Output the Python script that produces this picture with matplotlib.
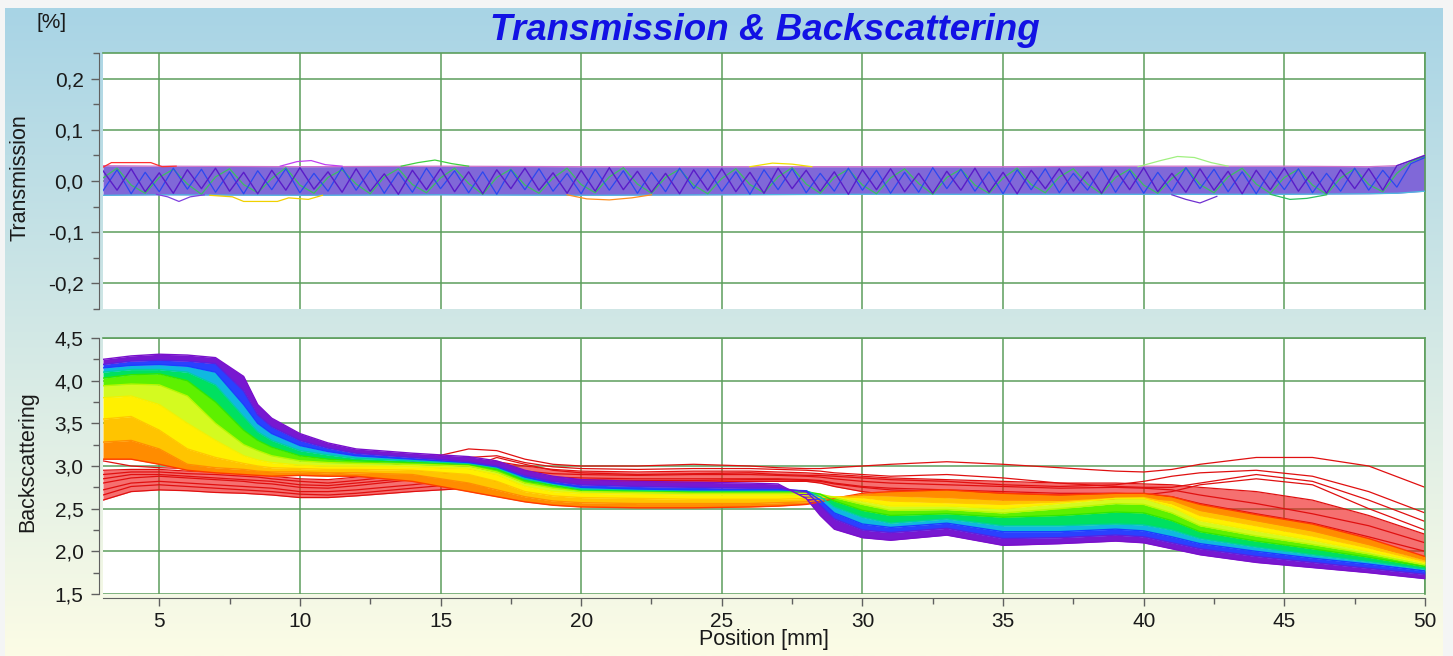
import numpy as np
import matplotlib
matplotlib.use("Agg")
import matplotlib.pyplot as plt
from matplotlib.ticker import MultipleLocator, FuncFormatter
from matplotlib.colors import LinearSegmentedColormap

plt.rcParams['font.family'] = ['Liberation Sans', 'DejaVu Sans']

# ---------------- data: backscattering profiles (position in mm) ----------------
POS = [3, 4, 5, 6, 7, 8, 8.5, 9, 10, 11, 12, 14, 16, 17, 18, 19, 20, 22, 24, 26,
       27, 28, 28.5, 29, 30, 31, 33, 35, 37, 39, 40, 41, 42, 44, 46, 48, 50]

# early scans (red lines)
RED_A = [2.60, 2.70, 2.72, 2.71, 2.69, 2.68, 2.67, 2.66, 2.63, 2.63, 2.65, 2.70, 2.74, 2.76, 2.80, 2.82, 2.82, 2.81, 2.81, 2.82,
         2.82, 2.82, 2.80, 2.76, 2.70, 2.66, 2.64, 2.62, 2.60, 2.60, 2.58, 2.55, 2.46, 2.32, 2.20, 2.05, 1.93]
RED_B = [2.72, 2.80, 2.82, 2.80, 2.78, 2.76, 2.75, 2.74, 2.70, 2.70, 2.72, 2.78, 2.85, 2.87, 2.88, 2.87, 2.86, 2.85, 2.85, 2.85,
         2.85, 2.84, 2.83, 2.80, 2.76, 2.74, 2.72, 2.70, 2.68, 2.68, 2.67, 2.64, 2.56, 2.44, 2.33, 2.17, 2.00]
RED_C = [2.85, 2.90, 2.90, 2.88, 2.86, 2.84, 2.83, 2.82, 2.78, 2.77, 2.80, 2.86, 2.95, 2.96, 2.94, 2.91, 2.90, 2.89, 2.90, 2.90,
         2.89, 2.88, 2.87, 2.85, 2.82, 2.80, 2.78, 2.76, 2.74, 2.75, 2.74, 2.72, 2.66, 2.56, 2.44, 2.30, 2.10]
RED_D = [2.95, 2.96, 2.96, 2.94, 2.93, 2.91, 2.90, 2.88, 2.85, 2.84, 2.87, 2.95, 3.05, 3.05, 3.00, 2.96, 2.94, 2.93, 2.94, 2.94,
         2.93, 2.92, 2.91, 2.90, 2.88, 2.86, 2.84, 2.82, 2.80, 2.80, 2.79, 2.78, 2.75, 2.70, 2.60, 2.42, 2.20]
RED_E = [3.06, 3.00, 2.98, 2.97, 2.95, 2.94, 2.93, 2.92, 2.89, 2.90, 2.93, 3.05, 3.20, 3.18, 3.08, 3.02, 3.00, 3.00, 3.02, 3.00,
         2.98, 2.97, 2.97, 2.98, 3.00, 3.02, 3.05, 3.02, 2.98, 2.94, 2.93, 2.96, 3.02, 3.10, 3.10, 3.00, 2.75]
RED_F = [2.80, 2.86, 2.88, 2.86, 2.84, 2.82, 2.80, 2.79, 2.75, 2.74, 2.77, 2.84, 2.98, 3.10, 3.02, 2.95, 2.92, 2.90, 2.91, 2.92,
         2.90, 2.89, 2.89, 2.88, 2.86, 2.84, 2.82, 2.78, 2.76, 2.78, 2.82, 2.88, 2.92, 2.95, 2.88, 2.70, 2.45]
RED_G = [2.66, 2.76, 2.78, 2.76, 2.74, 2.72, 2.71, 2.70, 2.67, 2.66, 2.68, 2.74, 2.80, 2.82, 2.84, 2.84, 2.84, 2.83, 2.83, 2.84,
         2.84, 2.83, 2.82, 2.79, 2.75, 2.72, 2.70, 2.68, 2.66, 2.66, 2.66, 2.70, 2.78, 2.85, 2.78, 2.50, 2.25]
RED_H = [2.90, 2.93, 2.93, 2.91, 2.90, 2.88, 2.87, 2.85, 2.82, 2.80, 2.83, 2.90, 3.10, 3.12, 3.04, 2.99, 2.97, 2.96, 2.97, 2.97,
         2.96, 2.95, 2.94, 2.92, 2.90, 2.88, 2.90, 2.86, 2.80, 2.76, 2.75, 2.75, 2.80, 2.90, 2.82, 2.60, 2.35]

# later scans, orange-red (P0) to violet (P9)
P0 = [3.08, 3.08, 3.02, 2.95, 2.92, 2.90, 2.89, 2.88, 2.89, 2.88, 2.88, 2.82, 2.70, 2.64, 2.58, 2.54, 2.52, 2.51, 2.51, 2.52,
      2.53, 2.55, 2.58, 2.62, 2.68, 2.70, 2.72, 2.68, 2.66, 2.68, 2.68, 2.64, 2.55, 2.43, 2.32, 2.15, 1.94]
P1 = [3.28, 3.30, 3.20, 3.02, 2.98, 2.96, 2.94, 2.93, 2.93, 2.92, 2.92, 2.90, 2.80, 2.72, 2.64, 2.59, 2.57, 2.56, 2.56, 2.56,
      2.57, 2.58, 2.60, 2.63, 2.66, 2.65, 2.63, 2.60, 2.60, 2.62, 2.62, 2.60, 2.48, 2.36, 2.24, 2.08, 1.90]
P2 = [3.55, 3.58, 3.42, 3.20, 3.10, 3.03, 3.00, 2.98, 2.97, 2.96, 2.96, 2.95, 2.90, 2.82, 2.70, 2.65, 2.63, 2.62, 2.61, 2.61,
      2.61, 2.62, 2.63, 2.64, 2.63, 2.59, 2.57, 2.55, 2.58, 2.62, 2.63, 2.56, 2.42, 2.30, 2.18, 2.04, 1.88]
P3 = [3.80, 3.82, 3.72, 3.50, 3.30, 3.12, 3.07, 3.04, 3.01, 3.00, 3.00, 2.99, 2.97, 2.90, 2.76, 2.70, 2.68, 2.67, 2.66, 2.66,
      2.66, 2.65, 2.65, 2.64, 2.59, 2.53, 2.53, 2.50, 2.56, 2.62, 2.62, 2.52, 2.36, 2.24, 2.13, 2.00, 1.86]
P4 = [3.94, 3.96, 3.95, 3.82, 3.50, 3.25, 3.18, 3.12, 3.06, 3.04, 3.03, 3.02, 3.00, 2.93, 2.80, 2.74, 2.70, 2.69, 2.68, 2.68,
      2.68, 2.68, 2.67, 2.63, 2.55, 2.48, 2.49, 2.45, 2.50, 2.56, 2.55, 2.45, 2.30, 2.18, 2.08, 1.97, 1.84]
P5 = [4.03, 4.07, 4.08, 4.00, 3.75, 3.42, 3.30, 3.22, 3.12, 3.08, 3.06, 3.04, 3.02, 2.96, 2.83, 2.77, 2.72, 2.71, 2.70, 2.70,
      2.70, 2.70, 2.67, 2.59, 2.48, 2.42, 2.44, 2.40, 2.42, 2.46, 2.45, 2.36, 2.23, 2.12, 2.03, 1.93, 1.82]
P6 = [4.10, 4.13, 4.13, 4.10, 3.95, 3.58, 3.40, 3.30, 3.18, 3.13, 3.09, 3.06, 3.03, 2.98, 2.85, 2.79, 2.73, 2.72, 2.71, 2.71,
      2.71, 2.71, 2.64, 2.52, 2.40, 2.33, 2.38, 2.30, 2.30, 2.32, 2.31, 2.25, 2.15, 2.05, 1.96, 1.88, 1.79]
P7 = [4.15, 4.18, 4.19, 4.17, 4.10, 3.72, 3.50, 3.38, 3.24, 3.17, 3.12, 3.08, 3.04, 2.99, 2.87, 2.80, 2.75, 2.73, 2.72, 2.72,
      2.72, 2.71, 2.60, 2.45, 2.32, 2.28, 2.33, 2.23, 2.23, 2.26, 2.24, 2.17, 2.09, 2.00, 1.92, 1.85, 1.77]
P8 = [4.19, 4.23, 4.24, 4.23, 4.20, 3.88, 3.60, 3.46, 3.30, 3.21, 3.15, 3.10, 3.05, 3.00, 2.89, 2.82, 2.78, 2.76, 2.75, 2.74,
      2.74, 2.70, 2.54, 2.38, 2.25, 2.22, 2.27, 2.15, 2.16, 2.19, 2.17, 2.10, 2.03, 1.94, 1.87, 1.80, 1.73]
P9 = [4.25, 4.29, 4.31, 4.30, 4.27, 4.05, 3.72, 3.56, 3.38, 3.27, 3.20, 3.15, 3.11, 3.06, 2.95, 2.88, 2.84, 2.82, 2.81, 2.80,
      2.79, 2.62, 2.42, 2.26, 2.16, 2.13, 2.19, 2.07, 2.09, 2.12, 2.10, 2.03, 1.96, 1.87, 1.81, 1.75, 1.68]

# ---------------- data: transmission (position in mm, %) ----------------
T_EDGE_POS = [3, 5, 10, 15, 20, 25, 30, 35, 40, 45, 48, 49, 49.5, 50]
T_HI = [0.030, 0.029, 0.028, 0.029, 0.028, 0.028, 0.028, 0.028, 0.029, 0.029, 0.028, 0.030, 0.040, 0.051]
T_LO = [-0.028, -0.027, -0.028, -0.027, -0.028, -0.027, -0.026, -0.026, -0.026, -0.026, -0.025, -0.024, -0.022, -0.020]

T_Z1 = [0.020, -0.018, 0.024, -0.021, 0.016, -0.024, 0.022, -0.015, 0.025, -0.020,
        0.017, -0.025, 0.021, -0.018, 0.026, -0.016, 0.018, -0.022, 0.024, -0.020,
        0.014, -0.026, 0.021, -0.017, 0.024, -0.021, 0.018, -0.025, 0.022, -0.015,
        0.025, -0.018, 0.016, -0.024, 0.021, -0.020, 0.026, -0.017, 0.019, -0.022,
        0.015, -0.025, 0.022, -0.018, 0.024, -0.021, 0.017, -0.024, 0.025, -0.015,
        0.021, -0.020, 0.018, -0.026, 0.022, -0.017, 0.024, -0.021, 0.015, -0.024,
        0.019, -0.018, 0.025, -0.022, 0.017, -0.025, 0.021, -0.015, 0.024, -0.020,
        0.018, -0.024, 0.022, -0.017, 0.026, -0.021, 0.015, -0.022, 0.024, -0.018,
        0.019, -0.025, 0.021, -0.017, 0.025, -0.020, 0.018, -0.024, 0.022, -0.015,
        0.024, -0.018, 0.030, 0.040, 0.050]
T_Z2 = [-0.019, 0.022, -0.025, 0.017, -0.021, 0.025, -0.016, 0.023, -0.022, 0.018,
        -0.025, 0.020, -0.017, 0.024, -0.023, 0.015, -0.020, 0.026, -0.018, 0.021,
        -0.024, 0.017, -0.022, 0.025, -0.015, 0.020, -0.023, 0.018, -0.026, 0.022,
        -0.017, 0.024, -0.020, 0.015, -0.025, 0.023, -0.018, 0.020, -0.024, 0.017,
        -0.021, 0.025, -0.015, 0.023, -0.020, 0.018, -0.026, 0.022, -0.017, 0.024,
        -0.023, 0.015, -0.020, 0.025, -0.018, 0.021, -0.024, 0.017, -0.022, 0.026,
        -0.015, 0.023, -0.020, 0.018, -0.025, 0.022, -0.017, 0.024, -0.023, 0.015,
        -0.018, 0.025, -0.022, 0.020, -0.024, 0.017, -0.020, 0.026, -0.015, 0.023,
        -0.021, 0.018, -0.025, 0.020, -0.017, 0.024, -0.023, 0.015, -0.020, 0.025,
        -0.018, 0.021, -0.012, 0.034, 0.046]
T_Z3 = [0.006, 0.025, -0.008, -0.024, 0.007, 0.023, -0.006, -0.026, 0.008, 0.024,
        -0.007, -0.023, 0.005, 0.026, -0.008, -0.024, 0.007, 0.022, -0.006, -0.025,
        0.008, 0.024, -0.007, -0.023, 0.006, 0.025, -0.005, -0.026, 0.007, 0.023,
        -0.008, -0.024, 0.006, 0.025, -0.007, -0.023, 0.008, 0.026, -0.006, -0.024,
        0.007, 0.023, -0.008, -0.025, 0.005, 0.024, -0.007, -0.023, 0.008, 0.026,
        -0.006, -0.024, 0.007, 0.023, -0.008, -0.025, 0.006, 0.024, -0.005, -0.026,
        0.007, 0.023, -0.008, -0.024, 0.006, 0.025, -0.007, -0.023, 0.008, 0.024,
        -0.006, -0.025, 0.007, 0.023, -0.008, -0.024, 0.005, 0.026, -0.007, -0.023,
        0.008, 0.025, -0.006, -0.024, 0.007, 0.023, -0.008, -0.026, 0.006, 0.024,
        -0.007, -0.021, 0.015, 0.038, 0.048]

# single excursions outside the band
T_OUT_X = [[3.0, 3.3, 4.7, 5.1, 5.6],
           [4.9, 5.3, 5.7, 6.1, 6.6],
           [6.8, 7.6, 8.0, 9.2, 9.6, 10.3, 10.8],
           [9.3, 9.9, 10.4, 10.9, 11.5],
           [13.6, 14.2, 14.8, 15.4, 16.0],
           [19.5, 20.2, 21.0, 21.8, 22.5],
           [26.0, 26.8, 27.5, 28.2],
           [39.8, 40.6, 41.2, 41.8, 42.4, 43.0],
           [41.0, 41.5, 42.0, 42.6],
           [44.5, 45.2, 45.8, 46.5]]
T_OUT_Y = [[0.027, 0.036, 0.036, 0.028, 0.029],
           [-0.026, -0.031, -0.040, -0.031, -0.027],
           [-0.028, -0.031, -0.040, -0.040, -0.033, -0.036, -0.028],
           [0.029, 0.038, 0.040, 0.032, 0.029],
           [0.029, 0.036, 0.041, 0.034, 0.029],
           [-0.027, -0.035, -0.037, -0.033, -0.027],
           [0.028, 0.035, 0.033, 0.028],
           [0.028, 0.040, 0.048, 0.046, 0.036, 0.029],
           [-0.027, -0.036, -0.043, -0.030],
           [-0.026, -0.036, -0.034, -0.027]]

X_TICKS = [5, 10, 15, 20, 25, 30, 35, 40, 45, 50]

# ---------------- styles ----------------
RED_LINES = [RED_A, RED_B, RED_C, RED_D, RED_E, RED_F, RED_G, RED_H]
P_SERIES = [P0, P1, P2, P3, P4, P5, P6, P7, P8, P9]
P_COLORS = ['#ff3a00', '#ff9000', '#ffc800', '#f4f000', '#b8f800', '#30e800', '#00d0a0', '#1840ff', '#5a20e0', '#7a10cc']
FILL_COLORS = ['#ff8c00', '#ffc400', '#fff000', '#d4fa20', '#5ef000', '#00e060', '#10b8e0', '#2a40ff', '#7818d0']
OUT_COLORS = ['#ff3030', '#8040e0', '#f0d000', '#c040f0', '#40d040', '#ff9020', '#f0e000', '#a0f080', '#7030d0', '#30c060']

W, H = 1453, 656
fig = plt.figure(figsize=(W / 100, H / 100), dpi=100)
fig.patch.set_facecolor('#f4f5f5')

bg = fig.add_axes([5 / W, 0, (1443 - 5) / W, (H - 8) / H])
grad = np.linspace(0, 1, 256)[:, None]
bg.imshow(grad, aspect='auto', cmap=LinearSegmentedColormap.from_list('bg', ['#a8d4e5', '#fcfce6']),
          extent=[0, 1, 0, 1], origin='upper')
bg.axis('off')
bg.set_zorder(0)

ax1 = fig.add_axes([103 / W, (H - 309) / H, 1322 / W, 256 / H])
ax2 = fig.add_axes([103 / W, (H - 594) / H, 1322 / W, 256 / H])


def comma(v, pos):
    if abs(v) < 1e-9:
        v = 0.0
    return f"{v:.1f}".replace('.', ',')


GRID = '#5c9e5c'
for ax in (ax1, ax2):
    ax.set_zorder(2)
    ax.set_facecolor('white')
    ax.set_xlim(3, 50)
    ax.set_axisbelow(True)
    ax.set_xticks(X_TICKS)
    ax.xaxis.set_minor_locator(MultipleLocator(2.5))
    ax.yaxis.set_major_formatter(FuncFormatter(comma))
    ax.grid(True, which='major', color=GRID, lw=1.1)
    for s in ('top', 'right'):
        ax.spines[s].set_color(GRID)
        ax.spines[s].set_linewidth(1.2)
    ax.spines['left'].set_position(('outward', 3))
    ax.spines['left'].set_color('#606060')
    ax.tick_params(axis='y', which='major', length=6, width=1, color='#606060',
                   labelsize=15, labelcolor='#1a1a1a', pad=5)
    ax.tick_params(axis='y', which='minor', length=4, width=1, color='#606060')

ax1.set_ylim(-0.2505, 0.2505)
ax1.yaxis.set_major_locator(MultipleLocator(0.1))
ax1.yaxis.set_minor_locator(MultipleLocator(0.05))
ax1.spines['bottom'].set_visible(False)
ax1.tick_params(axis='x', which='both', bottom=False, labelbottom=False)

ax2.set_ylim(1.5, 4.5)
ax2.yaxis.set_major_locator(MultipleLocator(0.5))
ax2.yaxis.set_minor_locator(MultipleLocator(0.25))
ax2.spines['bottom'].set_position(('outward', 3))
ax2.spines['bottom'].set_color('#606060')
ax2.tick_params(axis='x', which='major', length=6, width=1, color='#606060',
                labelsize=15, labelcolor='#1a1a1a', pad=4)
ax2.tick_params(axis='x', which='minor', length=4, width=1, color='#606060')

# ---- transmission ----
t_pos = np.linspace(3, 50, len(T_Z1))
ax1.fill_between(T_EDGE_POS, T_LO, T_HI, color='#8068d8', lw=0, zorder=2)
ax1.plot(T_EDGE_POS, T_HI, color='#d070c8', lw=0.9, zorder=3)
ax1.plot(T_EDGE_POS, T_LO, color='#50b8e0', lw=0.9, zorder=3)
ax1.plot(t_pos, T_Z3, color='#38c060', lw=0.9, zorder=3)
ax1.plot(t_pos, T_Z2, color='#2a48f0', lw=0.9, zorder=3)
ax1.plot(t_pos, T_Z1, color='#5a1cc8', lw=1.0, zorder=3)
for xs, ys, c in zip(T_OUT_X, T_OUT_Y, OUT_COLORS):
    ax1.plot(xs, ys, color=c, lw=0.9, zorder=3)

# ---- backscattering ----
ax2.fill_between(POS, RED_A, RED_D, color='#f01818', alpha=0.62, lw=0, zorder=2)
for r in RED_LINES:
    ax2.plot(POS, r, color='#e01010', lw=0.9, zorder=2.5)
for k in range(len(P_SERIES) - 1):
    ax2.fill_between(POS, P_SERIES[k], P_SERIES[k + 1], color=FILL_COLORS[k], lw=0, zorder=3)
for p, c in zip(P_SERIES, P_COLORS):
    ax2.plot(POS, p, color=c, lw=1.0, zorder=3.5)

# ---- texts ----
fig.text(765 / W, 1 - 31 / H, 'Transmission & Backscattering', fontsize=26.5, fontweight='bold',
         fontstyle='italic', color='#1212e4', ha='center', va='center')
fig.text(52 / W, 1 - 22 / H, '[%]', fontsize=15, color='#1a1a1a', ha='center', va='center')
fig.text(20 / W, 1 - 178 / H, 'Transmission', rotation=90, fontsize=15.5, color='#1a1a1a',
         ha='center', va='center')
fig.text(28 / W, 1 - 462 / H, 'Backscattering', rotation=90, fontsize=15.5, color='#1a1a1a',
         ha='center', va='center')
fig.text(764 / W, 1 - 640 / H, 'Position [mm]', fontsize=15.5, color='#1a1a1a',
         ha='center', va='center')

fig.savefig('out.png', dpi=100, facecolor=fig.get_facecolor())
